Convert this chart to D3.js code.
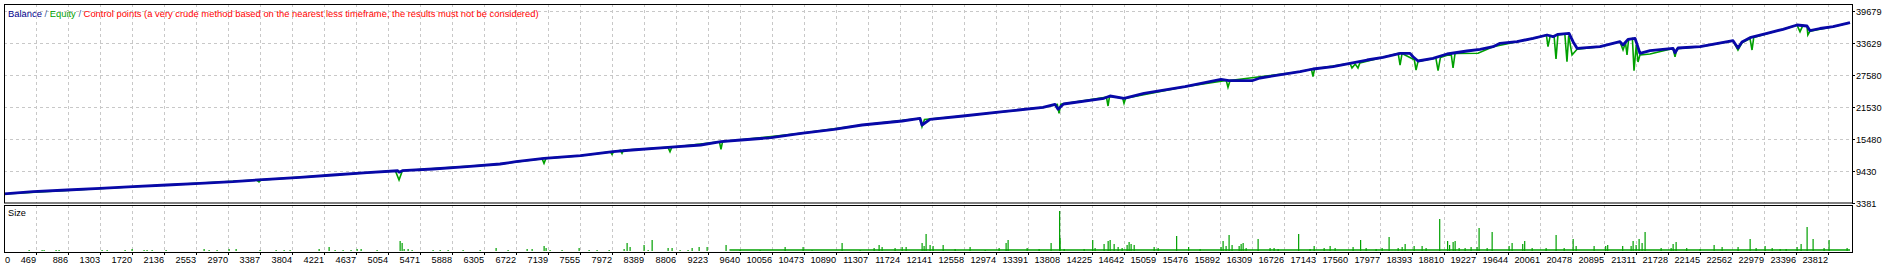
<!DOCTYPE html>
<html lang="en">
<head>
<meta charset="UTF-8">
<title>Balance / Equity</title>
<style>
  html, body { margin: 0; padding: 0; background: #fff; }
  svg text { font-family: "Liberation Sans", Arial, sans-serif; font-size: 9.2px; }
</style>
</head>
<body>
<div id="chart"></div>
<script src="https://cdnjs.cloudflare.com/ajax/libs/d3/7.8.5/d3.min.js"></script>
<script>
// tick labels
var xTicks = [469, 886, 1303, 1720, 2136, 2553, 2970, 3387, 3804, 4221, 4637, 5054, 5471, 5888, 6305, 6722,
  7139, 7555, 7972, 8389, 8806, 9223, 9640, 10056, 10473, 10890, 11307, 11724, 12141, 12558, 12974, 13391,
  13808, 14225, 14642, 15059, 15476, 15892, 16309, 16726, 17143, 17560, 17977, 18393, 18810, 19227, 19644,
  20061, 20478, 20895, 21311, 21728, 22145, 22562, 22979, 23396, 23812];
var yTicks = [3381, 9430, 15480, 21530, 27580, 33629, 39679];

// balance curve [trade, value]
var balance = [
  [0, 5000], [430, 5461], [873, 5782], [1302, 6103], [1732, 6406], [2175, 6727], [2605, 7049], [3035, 7351],
  [3477, 7805], [3907, 8183], [4337, 8618], [4780, 9053], [5180, 9420], [5200, 9150], [5240, 9430],
  [5639, 9752], [6082, 10187], [6512, 10697], [6720, 11132], [7085, 11775], [7562, 12266], [7984, 13023],
  [8231, 13344], [8700, 13854], [9125, 14289], [9390, 14913], [9651, 15234], [10042, 15669], [10432, 16501],
  [10862, 17257], [11227, 18070], [11748, 18826], [11982, 19337], [12008, 18070], [12112, 19148],
  [12542, 19772], [13063, 20585], [13584, 21416], [13740, 21984], [13780, 21038], [13851, 22040],
  [14378, 23118], [14457, 23553], [14639, 23118], [14899, 24063], [15433, 25311], [15902, 26710],
  [16006, 26445], [16306, 26445], [16410, 26956], [16931, 28147], [17100, 28657], [17361, 29092],
  [17582, 29735], [17804, 30358], [18012, 30869], [18234, 31625], [18364, 31625], [18403, 30982],
  [18468, 30170], [18663, 30680], [18846, 31493], [19106, 32060], [19276, 32381], [19445, 32873],
  [19536, 33516], [19757, 33818], [19966, 34461], [20148, 35085], [20226, 34763], [20291, 35217],
  [20435, 35406], [20487, 33818], [20539, 32570], [20838, 32873], [21098, 33818], [21138, 33194],
  [21203, 34272], [21294, 34461], [21358, 31625], [21490, 32117], [21789, 32570], [21815, 31739],
  [21854, 32630], [22141, 32873], [22571, 34000], [22635, 32630], [22687, 33761], [22792, 34574],
  [23013, 35406], [23221, 36162], [23404, 36975], [23534, 36786], [23573, 35898], [23703, 36314],
  [23873, 36654], [24094, 37410]
];

// equity curve [trade, value]
var equity = [
  [0, 4980], [1732, 6390], [3340, 7690], [3373, 7300], [3400, 7700], [4780, 9040], [5150, 9400],
  [5197, 7672], [5240, 9410], [6512, 10680], [7060, 11700], [7085, 10830], [7110, 11760], [7562, 12250],
  [7950, 12990], [7971, 12500], [7990, 13010], [8080, 13290], [8101, 12723], [8120, 13300], [8700, 13850],
  [8726, 13023], [8750, 13870], [9370, 14900], [9390, 13476], [9410, 14920], [10432, 16490],
  [11227, 18060], [11982, 19330], [12008, 17749], [12040, 19100], [12542, 19760], [13584, 21400],
  [13770, 21950], [13793, 20282], [13815, 21990], [14410, 23350], [14431, 21662], [14450, 23500],
  [14620, 23200], [14639, 22173], [14660, 23150], [15433, 25300], [15970, 26500], [15993, 25197],
  [16020, 26480], [16931, 28140], [17080, 28600], [17100, 27201], [17120, 28650], [17582, 29720],
  [17608, 28846], [17650, 29600], [17686, 28846], [17710, 29800], [18210, 31600], [18234, 29413],
  [18260, 31600], [18420, 30400], [18442, 28468], [18468, 30100], [18700, 30750], [18729, 28336],
  [18760, 30850], [18900, 31500], [18924, 28846], [18950, 31600], [19249, 31625], [19445, 32860],
  [19966, 34450], [20140, 35050], [20161, 32873], [20190, 34950], [20240, 34900], [20265, 30548],
  [20290, 35100], [20380, 35300], [20408, 30038], [20430, 35000], [20474, 31304], [20539, 32400],
  [20838, 32860], [21098, 33800], [21138, 32249], [21170, 33600], [21190, 31304], [21210, 34200],
  [21260, 34400], [21281, 28336], [21310, 33200], [21333, 29981], [21358, 31300], [21490, 31500],
  [21789, 32550], [21815, 30982], [21840, 32500], [22141, 32860], [22571, 33980], [22635, 32249],
  [22687, 33600], [22792, 34400], [22818, 32249], [22840, 34600], [23404, 36950], [23443, 35709],
  [23480, 36900], [23534, 36700], [23545, 35085], [23573, 35800], [23873, 36640], [24094, 37390]
];

// position size per trade [trade, lots]
var sizes = [
  [378, .01], [547, .01], [573, .01], [729, .01], [768, .01], [1328, .01], [1394, .01], [1628, .01],
  [1719, .02], [1875, .01], [1914, .01], [1980, .01], [2162, .01], [2657, .02], [2722, .01], [2826, .01],
  [2982, .02], [3074, .02], [3386, .01], [3595, .01], [3699, .01], [3777, .01], [4155, .02], [4285, .04],
  [4363, .01], [4467, .01], [4571, .01], [4650, .02], [4702, .02], [4910, .01], [5210, .10], [5236, .08],
  [5262, .02], [5314, .02], [5366, .01], [5639, .01], [5731, .01], [5835, .01], [6030, .01], [6252, .01],
  [6460, .03], [6616, .01], [6864, .02], [6929, .02], [7085, .05], [7111, .03], [7163, .01], [7319, .01],
  [7541, .03], [7671, .01], [7775, .01], [7932, .01], [8127, .02], [8166, .08], [8205, .04], [8387, .06],
  [8440, .01], [8492, .11], [8700, .03], [8752, .03], [8856, .01], [8960, .01], [9013, .03], [9104, .04],
  [9208, .04], [9455, .06], [9638, .01], [9898, .01], [10224, .04], [10458, .04], [10575, .01],
  [10966, .08], [11201, .01], [11383, .03], [11448, .06], [11487, .04], [11656, .03], [11748, .04],
  [11800, .04], [12008, .08], [12034, .05], [12060, .17], [12112, .06], [12151, .05], [12282, .06],
  [12438, .02], [12633, .04], [12829, .01], [13011, .03], [13102, .08], [13128, .11], [13376, .03],
  [13532, .02], [13688, .08], [13799, .40], [13805, .13], [13858, .02], [14118, .02], [14230, .11],
  [14261, .03], [14378, .07], [14431, .10], [14457, .11], [14509, .07], [14561, .04], [14613, .03],
  [14678, .06], [14704, .09], [14730, .07], [14770, .06], [15030, .04], [15082, .03], [15323, .15],
  [15479, .04], [15629, .02], [15902, .04], [15928, .10], [15967, .05], [16006, .16], [16045, .06],
  [16137, .05], [16163, .07], [16189, .08], [16228, .03], [16384, .12], [16540, .03], [16592, .03],
  [16645, .02], [16912, .17], [17061, .02], [17114, .05], [17244, .03], [17322, .05], [17387, .03],
  [17621, .04], [17719, .11], [17791, .03], [17921, .02], [17999, .03], [18090, .14], [18208, .03],
  [18260, .04], [18299, .07], [18416, .05], [18520, .05], [18572, .03], [18749, .32], [18852, .10],
  [18878, .06], [18924, .09], [18950, .10], [19002, .03], [19080, .03], [19158, .04], [19236, .04],
  [19262, .23], [19367, .03], [19432, .19], [19653, .05], [19692, .08], [19830, .07], [19856, .10],
  [19953, .03], [20135, .03], [20265, .16], [20370, .03], [20487, .12], [20526, .05], [20760, .05],
  [20911, .05], [20937, .06], [21132, .05], [21242, .05], [21268, .10], [21307, .06], [21346, .12],
  [21385, .08], [21424, .19], [21633, .03], [21763, .03], [21789, .07], [21828, .09], [21966, .03],
  [22141, .02], [22323, .06], [22427, .04], [22635, .04], [22792, .12], [22870, .03], [22987, .05],
  [23079, .03], [23183, .02], [23261, .02], [23404, .04], [23456, .07], [23534, .24], [23612, .12],
  [23755, .03], [23820, .11], [24055, .03]
];
// range of trades where the minimum lot forms a solid line at the bottom
var minLotRange = [9500, 24094];
var minLot = 0.01;

var W = 1896, H = 269;
var left = 4, right = 1852, mainTop = 4, mainBottom = 203, subTop = 205, subBottom = 252;

var x = d3.scaleLinear().domain([0, 24120]).range([0, 1852]);
var y = d3.scaleLinear().domain([3381, 39679]).range([202.7, 10.7]);
var ys = d3.scaleLinear().domain([0, 0.46]).range([251, 205]);

var svg = d3.select('#chart').append('svg')
  .attr('width', W).attr('height', H)
  .style('display', 'block');

svg.append('defs').append('clipPath').attr('id', 'clipMain')
  .append('rect').attr('x', left).attr('y', mainTop).attr('width', right - left).attr('height', mainBottom - mainTop);
svg.select('defs').append('clipPath').attr('id', 'clipSub')
  .append('rect').attr('x', left).attr('y', subTop).attr('width', right - left).attr('height', subBottom - subTop);

// grid
var grid = svg.append('g').attr('stroke', '#c8c8c8').attr('stroke-dasharray', '3,3').attr('stroke-width', 1);
xTicks.forEach(function (t) {
  var px = Math.round(x(t)) + 0.5;
  grid.append('line').attr('x1', px).attr('x2', px).attr('y1', mainTop).attr('y2', mainBottom);
  grid.append('line').attr('x1', px).attr('x2', px).attr('y1', subTop).attr('y2', subBottom);
});
yTicks.slice(1).forEach(function (v) {
  var py = Math.round(y(v)) + 0.5;
  grid.append('line').attr('x1', left).attr('x2', right).attr('y1', py).attr('y2', py);
});

var line = d3.line().x(function (d) { return x(d[0]); }).y(function (d) { return y(d[1]); });

var plot = svg.append('g').attr('clip-path', 'url(#clipMain)');
plot.append('path').datum(equity).attr('d', line)
  .attr('fill', 'none').attr('stroke', '#00a000').attr('stroke-width', 1.6);
plot.append('path').datum(balance).attr('d', line)
  .attr('fill', 'none').attr('stroke', '#0808a8').attr('stroke-width', 2.8).attr('stroke-linejoin', 'round');

// size panel
var sub = svg.append('g').attr('clip-path', 'url(#clipSub)');
sub.append('line')
  .attr('x1', x(minLotRange[0])).attr('x2', x(minLotRange[1]))
  .attr('y1', ys(minLot)).attr('y2', ys(minLot))
  .attr('stroke', '#00a000').attr('stroke-width', 1.6);
sub.selectAll('rect.bar').data(sizes).enter().append('rect')
  .attr('class', 'bar')
  .attr('x', function (d) { return x(d[0]) - 0.5; })
  .attr('width', 1.2)
  .attr('y', function (d) { return ys(d[1]); })
  .attr('height', function (d) { return ys(0) - ys(d[1]); })
  .attr('fill', '#00a000');

// frames
svg.append('rect').attr('x', left + 0.5).attr('y', mainTop + 0.5)
  .attr('width', right - left).attr('height', mainBottom - mainTop - 0.5)
  .attr('fill', 'none').attr('stroke', '#000');
svg.append('rect').attr('x', left + 0.5).attr('y', subTop + 0.5)
  .attr('width', right - left).attr('height', subBottom - subTop)
  .attr('fill', 'none').attr('stroke', '#000');

// axis ticks and labels
var ax = svg.append('g');
xTicks.forEach(function (t) {
  var px = Math.round(x(t)) + 0.5;
  ax.append('line').attr('x1', px).attr('x2', px).attr('y1', subBottom).attr('y2', subBottom + 3).attr('stroke', '#000');
  ax.append('text').attr('x', px - 0.5).attr('y', 263).attr('text-anchor', 'end').text(t);
});
ax.append('text').attr('x', 5).attr('y', 263).text('0');
yTicks.forEach(function (v) {
  var py = Math.round(y(v)) + 0.5;
  ax.append('line').attr('x1', right).attr('x2', right + 3).attr('y1', py).attr('y2', py).attr('stroke', '#000');
  ax.append('text').attr('x', 1856).attr('y', py + 3.3).text(v);
});

// legend
var lg = svg.append('text').attr('x', 8).attr('y', 17).style('font-size', '9.4px');
lg.append('tspan').attr('fill', '#00008b').text('Balance');
lg.append('tspan').attr('fill', '#4060a0').text(' / ');
lg.append('tspan').attr('fill', '#00a000').text('Equity');
lg.append('tspan').attr('fill', '#4060a0').text(' / ');
lg.append('tspan').attr('fill', '#ff0000').text('Control points (a very crude method based on the nearest less timeframe, the results must not be considered)');

svg.append('text').attr('x', 8).attr('y', 216).attr('fill', '#000').text('Size');
</script>
</body>
</html>
